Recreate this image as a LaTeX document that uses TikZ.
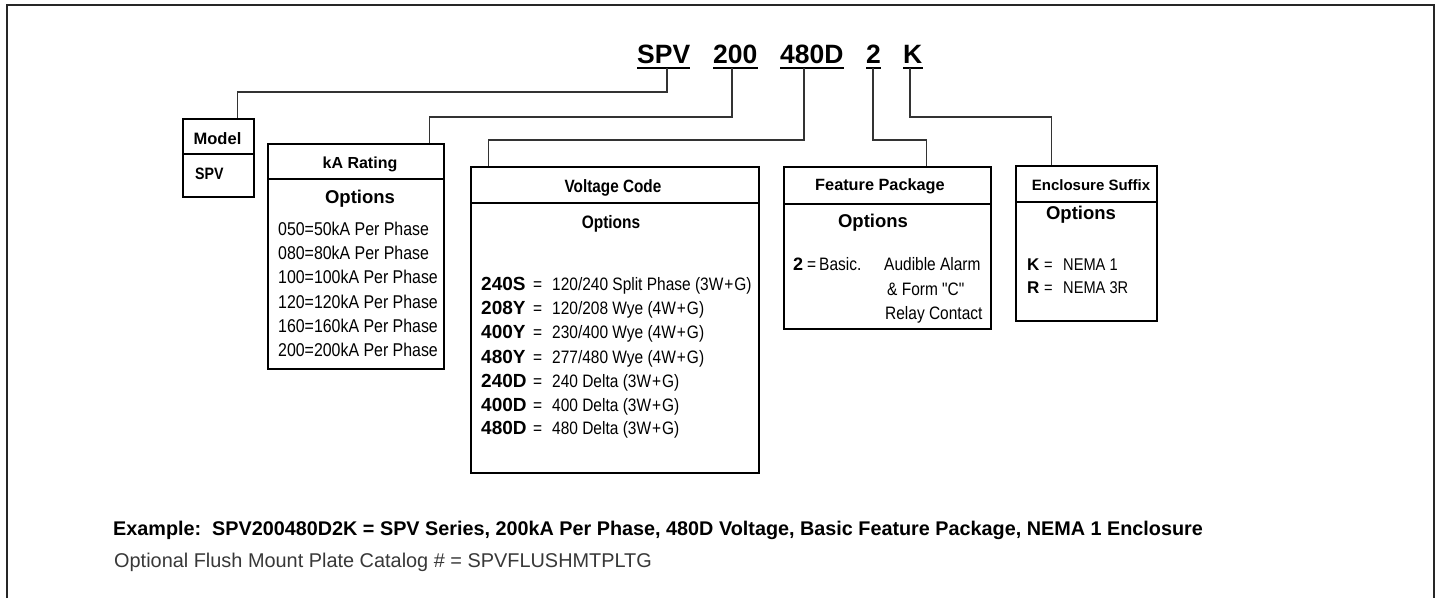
\documentclass[tikz,border=0pt]{standalone}
\usepackage{fontspec}
\setmainfont{Liberation Sans}
\newfontfamily\cond[FakeStretch=0.86]{Liberation Sans}
\usetikzlibrary{calc}
\newcommand\fsz[1]{\fontsize{#1}{#1}\selectfont}
\newcommand\pg{\kern1pt+\kern1pt}
\tikzset{
  bx/.style={draw=black, line width=2.3pt, inner sep=0pt, anchor=north west},
  lt/.style={inner sep=0pt, anchor=base west},
  ct/.style={inner sep=0pt, anchor=base},
  conn/.style={draw=black!80, line width=1.3pt},
  ul/.style={draw=black, line width=2.4pt},
  frame/.style={draw=black!85, line width=2pt},
  code/.style={lt, font=\bfseries\fsz{26.5}},
  hdr/.style={ct, font=\bfseries\fsz{16}},
  opt/.style={ct, font=\bfseries\fsz{18.5}},
  dat/.style={lt, font=\cond\fsz{18.5}},
  vdat/.style={lt, font=\cond\fsz{18}},
  key/.style={lt, font=\bfseries\fsz{19}},
}
\begin{document}
\begin{tikzpicture}[x=1pt,y=-1pt]
\useasboundingbox (0,0) rectangle (1439,598);
\fill[white] (0,0) rectangle (1439,598);
\draw[frame] (7,598) -- (7,5) -- (1434,5) -- (1434,598);

% code header
\node[code] (cSPV) at (637,63) {SPV};
\node[code] (c200) at (713,63) {200};
\node[code] (c480) at (780,63) {480D};
\node[code] (c2) at (866,63) {2};
\node[code] (cK) at (903,63) {K};
\foreach \n in {cSPV,c200,c480,c2,cK}{
  \draw[ul] ([yshift=-5pt]\n.base west) -- ([yshift=-5pt]\n.base east);
}
\coordinate (uSPV) at (667,68);
\coordinate (u200) at (732,68);
\coordinate (u480) at (804,68);
\coordinate (u2) at (873,68);
\coordinate (uK) at (910,68);

% Model box
\node[bx, minimum width=71pt, minimum height=35pt] (modelH) at (182,118) {};
\node[bx, minimum width=71pt, minimum height=43pt] (modelB) at (182,153) {};
\node[ct, font=\bfseries\fsz{16.5}] at (217.5,144) {Model};
\node[lt, font=\cond\bfseries\fsz{16.5}] at (195,179) {SPV};

% kA box
\node[bx, minimum width=176pt, minimum height=35pt] (kaH) at (267,143) {};
\node[bx, minimum width=176pt, minimum height=190pt] (kaB) at (267,178) {};
\node[hdr] at (360,168) {kA Rating};
\node[opt] at (360,203) {Options};
\node[dat] at (278,235) {050{=}50kA Per Phase};
\node[dat] at (278,259) {080{=}80kA Per Phase};
\node[dat] at (278,283) {100{=}100kA Per Phase};
\node[dat] at (278,308) {120{=}120kA Per Phase};
\node[dat] at (278,332) {160{=}160kA Per Phase};
\node[dat] at (278,356) {200{=}200kA Per Phase};

% Voltage box
\node[bx, minimum width=288pt, minimum height=36pt] (vH) at (470,166) {};
\node[bx, minimum width=288pt, minimum height=270pt] (vB) at (470,202) {};
\node[hdr, font=\cond\bfseries\fsz{17.8}] at (613,192) {Voltage Code};
\node[hdr, font=\cond\bfseries\fsz{18}] at (611,228) {Options};
\node[key] at (481,290) {240S};
\node[vdat] at (533,290) {=};
\node[vdat] at (552,290) {120/240 Split Phase (3W\pg G)};
\node[key] at (481,314) {208Y};
\node[vdat] at (533,314) {=};
\node[vdat] at (552,314) {120/208 Wye (4W\pg G)};
\node[key] at (481,338) {400Y};
\node[vdat] at (533,338) {=};
\node[vdat] at (552,338) {230/400 Wye (4W\pg G)};
\node[key] at (481,363) {480Y};
\node[vdat] at (533,363) {=};
\node[vdat] at (552,363) {277/480 Wye (4W\pg G)};
\node[key] at (481,387) {240D};
\node[vdat] at (533,387) {=};
\node[vdat] at (552,387) {240 Delta (3W\pg G)};
\node[key] at (481,411) {400D};
\node[vdat] at (533,411) {=};
\node[vdat] at (552,411) {400 Delta (3W\pg G)};
\node[key] at (481,434) {480D};
\node[vdat] at (533,434) {=};
\node[vdat] at (552,434) {480 Delta (3W\pg G)};

% Feature box
\node[bx, minimum width=207pt, minimum height=37pt] (fH) at (783,166) {};
\node[bx, minimum width=207pt, minimum height=125pt] (fB) at (783,203) {};
\node[hdr, font=\bfseries\fsz{16.3}] at (880,190) {Feature Package};
\node[opt] at (873,227) {Options};
\node[key, font=\bfseries\fsz{18}] at (793,270) {2};
\node[vdat] at (807,270) {=};
\node[vdat] at (819,270) {Basic.};
\node[vdat] at (884,270) {Audible Alarm};
\node[vdat] at (887,295) {\& Form "C"};
\node[vdat] at (885,319) {Relay Contact};

% Enclosure box
\node[bx, minimum width=141pt, minimum height=36pt] (eH) at (1015,165) {};
\node[bx, minimum width=141pt, minimum height=119pt] (eB) at (1015,201) {};
\node[hdr, font=\bfseries\fsz{15}] at (1091,190) {Enclosure Suffix};
\node[opt] at (1081,219) {Options};
\node[key, font=\bfseries\fsz{17}] at (1027,270) {K};
\node[vdat, font=\cond\fsz{17}] at (1044,270) {=};
\node[vdat, font=\cond\fsz{17}] at (1063,270) {NEMA 1};
\node[key, font=\bfseries\fsz{17}] at (1027,293) {R};
\node[vdat, font=\cond\fsz{17}] at (1044,293) {=};
\node[vdat, font=\cond\fsz{17}] at (1063,293) {NEMA 3R};

% connectors
\draw[conn] (uSPV) -- (uSPV |- 0,92) -| ([xshift=18.5pt]modelH.north);
\draw[conn] (u200) -- (u200 |- 0,117) -| ([xshift=73pt]kaH.north);
\draw[conn] (u480) -- (u480 |- 0,140) -| ([xshift=-127pt]vH.north);
\draw[conn] (u2) -- (u2 |- 0,140) -| ([xshift=38.5pt]fH.north);
\draw[conn] (uK) -- (uK |- 0,117) -| ([xshift=-35.5pt]eH.north);

% bottom text
\node[lt, font=\bfseries\fsz{19.8}] (ex) at (113,535) {Example:\ \ SPV200480D2K = SPV Series, 200kA Per Phase, 480D Voltage, Basic Feature Package, NEMA 1 Enclosure};
\node[lt, font=\fsz{19.9}, text=black!78] (opt2) at (114,567) {Optional Flush Mount Plate Catalog \# = SPVFLUSHMTPLTG};
\end{tikzpicture}
\end{document}
